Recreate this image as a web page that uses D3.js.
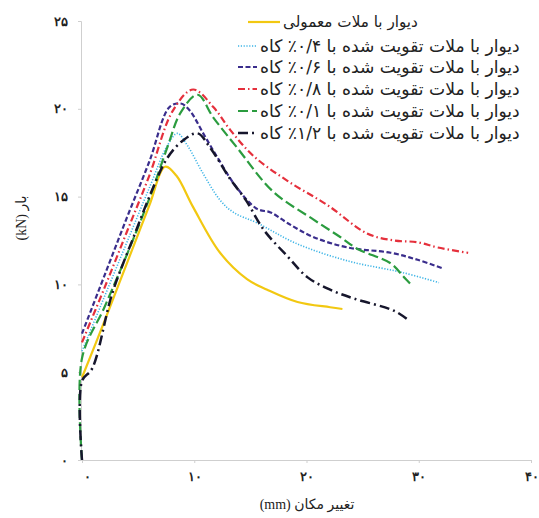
<!DOCTYPE html>
<html>
<head>
<meta charset="utf-8">
<script src="https://cdn.jsdelivr.net/npm/d3@7"></script>
<style>
  body { margin: 0; background: #fff; }
  svg { display: block; font-family: "DejaVu Sans", sans-serif; }
</style>
</head>
<body>
<svg width="539" height="518"></svg>
<script>
// displacement (mm), load (kN) pairs
var plain   = [[0,4.7],[2,7.9],[4,11.2],[6,14.5],[7.4,16.7],[8.4,16.2],[9.9,14.4],[12.3,11.8],[14.7,10.3],[16.5,9.7],[19.2,9.0],[22.1,8.7],[23.2,8.6]];
var straw04 = [[0,6.2],[2,9.3],[4,12.4],[6,15.5],[7.6,17.9],[8.5,18.6],[9.4,17.9],[10.8,16.3],[12.3,14.8],[13.5,14.1],[15.6,13.5],[19.2,12.3],[23.9,11.3],[28.4,10.7],[31.8,10.1]];
var straw06 = [[0,7.2],[2,10.5],[4,13.8],[6,17],[7.8,20.1],[8.8,20.3],[9.6,19.9],[10.8,18.6],[12,17.3],[13.8,15.5],[15.6,14.3],[16.8,14.1],[18.3,13.5],[20.6,12.7],[23.7,12.1],[27.5,11.8],[29.9,11.4],[32.2,10.9]];
var straw08 = [[0,6.7],[2,9.8],[4,13],[6,16.2],[8.1,19.9],[9.9,21.1],[11.7,20.1],[13.2,18.8],[15.3,17.3],[18.3,15.9],[21.9,14.5],[25.4,12.9],[27.8,12.5],[29.9,12.4],[31.7,12.1],[34.4,11.8]];
var straw10 = [[0,0],[0,5.8],[2,8.7],[4,11.7],[6,14.9],[7.6,17.8],[8.8,19.8],[10.3,20.8],[11.7,19.5],[13.8,17.8],[17,15.3],[20.6,13.7],[23,12.7],[24.6,12],[27.5,11.2],[28.7,10.4],[29.3,10]];
var straw12 = [[0,0],[0,4.5],[0.9,5.2],[2.7,9.5],[4.6,12.7],[6.2,15.3],[7.6,17.2],[9,18.2],[10.3,18.6],[11.4,17.8],[13.2,16],[14.6,14.8],[16.2,13.1],[18.3,11.6],[20.1,10.4],[22.1,9.7],[24.2,9.2],[27.8,8.5],[29,8]];

var names = [
  "دیوار با ملات معمولی",
  "دیوار با ملات تقویت شده با ۰/۴٪ کاه",
  "دیوار با ملات تقویت شده با ۰/۶٪ کاه",
  "دیوار با ملات تقویت شده با ۰/۸٪ کاه",
  "دیوار با ملات تقویت شده با ۰/۱٪ کاه",
  "دیوار با ملات تقویت شده با ۱/۲٪ کاه"
];
var xTicks = [0, 10, 20, 30, 40];
var yTicks = [0, 5, 10, 15, 20, 25];

var faDigits = function(n) { return String(n).replace(/\d/g, function(c) { return "۰۱۲۳۴۵۶۷۸۹"[+c]; }); };

var series = [
  { pts: plain,   color: "#f2c811", dash: null,          w: 2.2 },
  { pts: straw04, color: "#3db4e6", dash: "1.2,1.6",     w: 1.6 },
  { pts: straw06, color: "#3a2d8c", dash: "5,2.5",       w: 2.2 },
  { pts: straw08, color: "#e5303c", dash: "7,3,1.5,3",   w: 2.2 },
  { pts: straw10, color: "#2b9c3f", dash: "10,4",        w: 2.2 },
  { pts: straw12, color: "#16162c", dash: "10,4,2,4",    w: 2.5 }
];

var svg = d3.select("svg");

var x = d3.scaleLinear().domain([0, 40]).range([82, 531]);
var y = d3.scaleLinear().domain([0, 25]).range([460, 21]);

// axes
var gx = svg.append("g").attr("transform", "translate(0,460)")
  .call(d3.axisBottom(x).tickValues(xTicks).tickSize(3).tickPadding(9).tickFormat(faDigits));
var gy = svg.append("g").attr("transform", "translate(81,0)")
  .call(d3.axisLeft(y).tickValues(yTicks).tickSize(3).tickPadding(10).tickFormat(faDigits));

[gx, gy].forEach(function(g) {
  g.select(".domain").attr("stroke", "#cfcfcf");
  g.selectAll(".tick line").attr("stroke", "#cfcfcf");
  g.selectAll(".tick text").attr("fill", "#222").style("font-size", "13px").style("font-weight", "bold");
});
gx.selectAll(".tick text").attr("dx", function(d) { return d == 0 ? 5 : 0; });

// axis titles
svg.append("text")
  .attr("x", 307).attr("y", 509)
  .attr("text-anchor", "middle")
  .style("font-family", "'Liberation Serif', 'DejaVu Sans', serif")
  .style("font-size", "14px").attr("fill", "#222")
  .text("(mm) تغییر مکان");

svg.append("text")
  .attr("transform", "translate(26,218) rotate(-90)")
  .attr("text-anchor", "middle")
  .style("font-family", "'Liberation Serif', 'DejaVu Sans', serif")
  .style("font-size", "14px").attr("fill", "#222")
  .text("(kN) بار");

// curves
var line = d3.line()
  .x(function(d) { return x(d[0]); })
  .y(function(d) { return y(d[1]); })
  .curve(d3.curveCatmullRom.alpha(0.5));

svg.append("g").selectAll("path")
  .data(series)
  .enter().append("path")
   .attr("d", function(d) { return line(d.pts); })
   .attr("fill", "none")
   .attr("stroke", function(d) { return d.color; })
   .attr("stroke-width", function(d) { return d.w; })
   .attr("stroke-dasharray", function(d) { return d.dash; })
   .attr("stroke-linecap", "butt");

// legend
var legendRows = [22, 46, 67, 89, 111, 133];
var legend = svg.append("g").selectAll("g")
  .data(series)
  .enter().append("g")
   .attr("transform", function(d, i) { return "translate(0," + legendRows[i] + ")"; });

legend.append("line")
  .attr("x1", function(d, i) { return i == 0 ? 248 : 238; })
  .attr("x2", function(d, i) { return i == 0 ? 280 : 257; })
  .attr("stroke", function(d) { return d.color; })
  .attr("stroke-width", function(d) { return d.w; })
  .attr("stroke-dasharray", function(d) { return d.dash; });

legend.append("text")
  .attr("x", function(d, i) { return i == 0 ? 283 : 260; })
  .attr("dy", "0.35em")
  .attr("fill", "#222")
  .style("font-size", "12px")
  .text(function(d, i) { return names[i]; })
  .each(function(d, i) {
    var target = i == 0 ? 135 : 260;
    var w = this.getComputedTextLength();
    d3.select(this).style("font-size", (12 * target / w).toFixed(2) + "px");
  });
</script>
</body>
</html>
